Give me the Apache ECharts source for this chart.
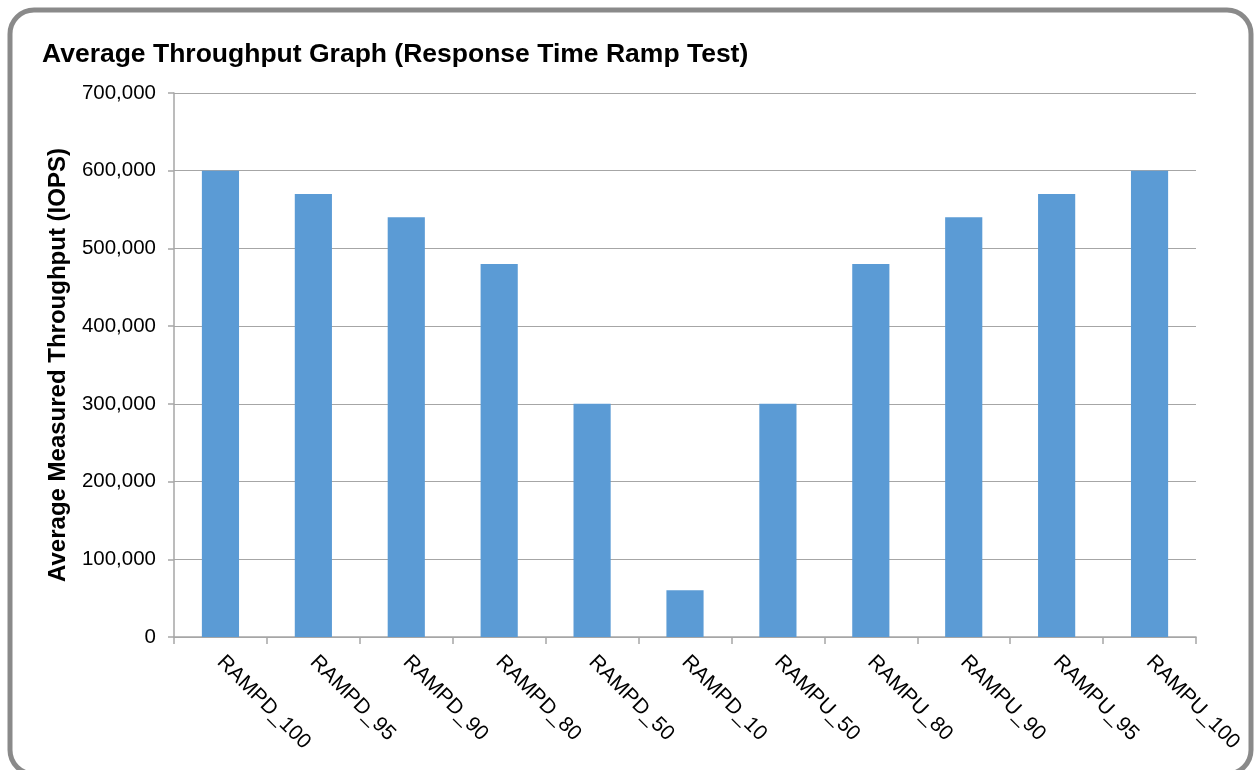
<!DOCTYPE html>
<html>
<head>
<meta charset="utf-8">
<script src="https://cdn.jsdelivr.net/npm/echarts@6/dist/echarts.min.js"></script>
<style>
  html, body { margin: 0; padding: 0; background: #fff; }
  #chart { width: 1254px; height: 770px; }
</style>
</head>
<body>
<div id="chart"></div>
<script>
const categories = ['RAMPD_100', 'RAMPD_95', 'RAMPD_90', 'RAMPD_80', 'RAMPD_50', 'RAMPD_10',
                    'RAMPU_50', 'RAMPU_80', 'RAMPU_90', 'RAMPU_95', 'RAMPU_100'];
const throughput = [600000, 570000, 540000, 480000, 300000, 60000,
                    300000, 480000, 540000, 570000, 600000];
const chartTitle = 'Average Throughput Graph (Response Time Ramp Test)';
const yAxisName = 'Average Measured Throughput (IOPS)';

const chart = echarts.init(document.getElementById('chart'), null, { renderer: 'canvas' });
const font = '"Liberation Sans", Arial, sans-serif';
chart.setOption({
  animation: false,
  backgroundColor: '#ffffff',
  graphic: [{
    type: 'rect',
    left: 7.5, top: 7.5,
    shape: { x: 0, y: 0, width: 1241, height: 764, r: 24 },
    style: { fill: 'none', stroke: '#8a8a8a', lineWidth: 5 },
    silent: true, z: -1
  }],
  title: {
    text: chartTitle,
    left: 42, top: 41,
    padding: 0,
    textStyle: { fontFamily: font, fontWeight: 'bold', fontSize: 26.5, color: '#000' }
  },
  grid: { left: 174, right: 58, top: 93, bottom: 133, containLabel: false },
  xAxis: {
    type: 'category',
    data: categories,
    axisLine: { lineStyle: { color: '#a6a6a6', width: 1.5 } },
    axisTick: { show: true, length: 7, alignWithLabel: false, lineStyle: { color: '#a6a6a6', width: 1.5 } },
    axisLabel: { rotate: -45, margin: 22, fontFamily: font, fontSize: 21, color: '#000', interval: 0 }
  },
  yAxis: {
    type: 'value',
    min: 0, max: 700000, interval: 100000,
    name: yAxisName,
    nameLocation: 'middle',
    nameGap: 104,
    nameTextStyle: { fontFamily: font, fontWeight: 'bold', fontSize: 24, color: '#000' },
    axisLine: { show: true, lineStyle: { color: '#a6a6a6', width: 1.5 } },
    axisTick: { show: true, length: 6, lineStyle: { color: '#a6a6a6', width: 1.5 } },
    axisLabel: {
      margin: 18, fontFamily: font, fontSize: 20.5, color: '#000',
      formatter: v => v.toLocaleString('en-US')
    },
    splitLine: { show: true, lineStyle: { color: '#a6a6a6', width: 1.2 } }
  },
  series: [{
    type: 'bar',
    data: throughput,
    barWidth: '40%',
    itemStyle: { color: '#5b9bd5' }
  }]
});
</script>
</body>
</html>
